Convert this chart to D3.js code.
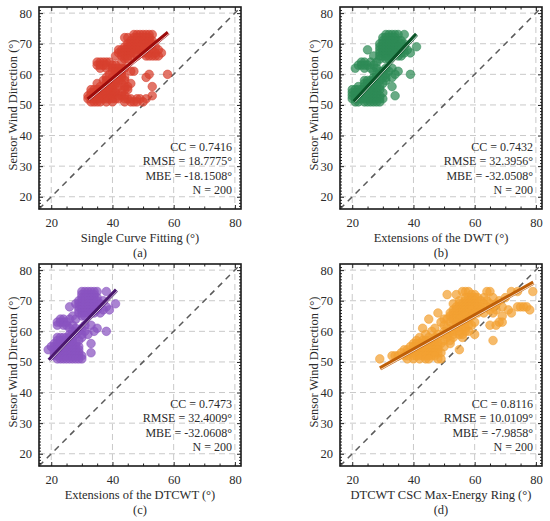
<!DOCTYPE html>
<html>
<head>
<meta charset="utf-8">
<script src="https://cdn.jsdelivr.net/npm/d3@7"></script>
<style>
    body { margin: 0; background: #fff; }
    text { font-family: "Liberation Serif", "Times New Roman", serif; fill: #2b2b2b; }
</style>
</head>
<body>
<div id="chart"></div>
<script>
// y values come in integer rows, each panel lists the x values found on each row
const yLevels = [73, 72, 71, 70, 69, 68, 67, 66, 65, 64, 63, 62, 61, 60, 59, 58, 57, 56, 55, 54, 53, 52, 51];

const xsA = [
    [47, 48, 49, 50, 51, 52, 53],
    [44, 45, 47, 48, 49, 50, 51, 52],
    [46, 47, 48, 49, 50, 51, 52, 53],
    [45, 46, 47, 48, 50, 51, 52, 53],
    [44, 45, 46, 47, 48, 49, 51, 52, 54],
    [42, 43, 44, 45, 46, 47, 48, 49, 50, 53, 55],
    [42, 43, 44, 45, 46, 47, 50, 51, 52, 54, 56],
    [41, 43, 44, 45, 46, 48, 51, 52, 53, 54, 55],
    [44, 45],
    [35, 36, 37, 38, 39, 43],
    [35, 36, 37, 38, 40, 41],
    [36, 38, 40, 41, 42, 43, 44],
    [40, 41, 42, 43, 46, 47],
    [39, 42, 43, 52, 58],
    [38, 40, 43, 44, 51],
    [37, 38, 40, 41, 42, 44],
    [35, 38, 39, 41, 43, 46],
    [36, 38, 39, 40, 42, 44, 45, 53],
    [33, 34, 35, 36, 38, 39, 40, 41, 44, 45],
    [33, 34, 35, 36, 37, 38, 39, 40, 41, 43],
    [32, 33, 34, 35, 36, 37, 38, 39, 40, 42, 43, 44, 53],
    [32, 33, 34, 35, 36, 37, 38, 39, 40, 41, 42, 44, 45, 46, 48, 49, 51],
    [33, 34, 35, 36, 38, 40, 44, 46, 47, 48, 50]
];

const xsB = [
    [31, 32, 33, 34, 35, 37],
    [30, 31, 32, 33, 34],
    [30, 31, 32, 33, 34, 35, 36],
    [29, 30, 31, 32, 33, 34, 36, 37],
    [29, 30, 31, 32, 33, 34, 35, 37, 41],
    [25, 29, 30, 31, 32, 33, 34, 35, 36, 38],
    [29, 30, 31, 32, 33, 34, 36, 37, 39],
    [27, 29, 30, 31, 32, 33, 35, 36],
    [29, 31, 32],
    [23, 24, 26, 28],
    [22, 23, 24, 25, 27],
    [21, 24, 26, 28, 31, 33],
    [27, 29, 30, 32, 35],
    [28, 30, 31, 34, 39],
    [27, 28, 30, 31, 33],
    [24, 25, 26, 27, 28, 29, 31],
    [24, 25, 26, 27, 28, 30],
    [22, 24, 25, 26, 27, 28, 29, 33],
    [20, 21, 22, 23, 24, 25, 26, 27, 28, 29],
    [20, 21, 22, 23, 24, 25, 26, 27, 28, 30],
    [20, 21, 22, 23, 24, 25, 26, 27, 28, 29, 34],
    [20, 21, 22, 23, 24, 25, 26, 27, 28, 29, 30],
    [21, 22, 24, 25, 26, 27, 28, 29]
];

const xsC = [
    [30, 31, 32, 33, 34, 35, 38],
    [30, 31, 32, 33, 34],
    [30, 31, 32, 33, 34, 35],
    [29, 30, 31, 32, 33, 34, 35, 37],
    [28, 29, 30, 31, 32, 33, 34, 36, 41],
    [26, 29, 30, 31, 32, 33, 34, 35, 38],
    [29, 30, 31, 32, 33, 34, 35, 37, 39],
    [29, 30, 31, 32, 33, 34, 36],
    [27, 30, 31],
    [23, 24, 26, 28],
    [22, 23, 24, 25],
    [22, 24, 25, 27, 31, 33],
    [26, 28, 30, 35],
    [27, 29, 31, 34, 38],
    [26, 28, 30, 32],
    [22, 23, 24, 25, 26, 27, 30],
    [22, 23, 24, 25, 26, 27, 29],
    [21, 22, 23, 24, 25, 26, 27, 28, 33],
    [20, 21, 22, 23, 24, 25, 26, 27, 28, 29],
    [19, 21, 22, 23, 24, 25, 26, 27, 28, 29],
    [21, 22, 23, 24, 25, 26, 27, 28, 29, 33],
    [21, 22, 23, 24, 25, 26, 27, 28, 29, 30],
    [22, 23, 24, 25, 26, 27, 28, 29, 30]
];

const xsD = [
    [56, 57, 58, 64, 65, 72, 74, 79],
    [51, 54, 59, 60],
    [57, 58, 59, 60, 61, 63, 66, 70],
    [55, 57, 58, 59, 60, 62, 64, 68],
    [53, 55, 56, 57, 58, 59, 60, 61, 63, 65, 67],
    [54, 55, 56, 57, 58, 59, 60, 61, 62, 64, 66, 69, 74, 75, 76, 77],
    [53, 54, 55, 56, 57, 58, 59, 61, 62, 65, 67, 71, 78],
    [48, 52, 53, 55, 56, 57, 58, 60, 61, 63, 66, 72],
    [52, 53, 54, 55, 56, 57, 59, 69],
    [45, 50, 51, 53, 54, 55, 58],
    [49, 52, 54, 56, 57, 60, 68, 69],
    [50, 53, 55, 58, 59, 65, 67],
    [43, 47, 51, 54, 56, 57],
    [46, 50, 52, 53, 55, 57, 58],
    [44, 48, 50, 51, 53, 55, 56, 60],
    [42, 45, 47, 48, 51, 53, 56],
    [41, 43, 44, 45, 47, 50, 52, 66],
    [40, 41, 42, 43, 44, 46, 47, 48, 49, 52],
    [39, 40, 41, 42, 43, 44, 45, 46, 47, 48, 50],
    [37, 38, 40, 41, 42, 43, 44, 45, 46, 47, 48, 55],
    [36, 38, 39, 40, 41, 42, 43, 44, 45, 46, 47, 48, 49],
    [33, 34, 35, 37, 38, 40, 41, 42, 43, 44, 45, 46, 47],
    [29, 38, 40, 42, 44, 45, 48, 49]
];

// fitted line end points
const fitXA = [32, 58.2], fitYA = [51.8, 73.6];
const fitXB = [20.6, 41], fitYB = [51.1, 73.1];
const fitXC = [19.3, 41.3], fitYC = [50.6, 73.5];
const fitXD = [29.1, 79.2], fitYD = [47.9, 75.9];

const statsA = ['CC = 0.7416', 'RMSE = 18.7775°', 'MBE = -18.1508°', 'N = 200'];
const statsB = ['CC = 0.7432', 'RMSE = 32.3956°', 'MBE = -32.0508°', 'N = 200'];
const statsC = ['CC = 0.7473', 'RMSE = 32.4009°', 'MBE = -32.0608°', 'N = 200'];
const statsD = ['CC = 0.8116', 'RMSE = 10.0109°', 'MBE = -7.9858°', 'N = 200'];

const axisDomain = [16, 82];
const xTicks = [20, 40, 60, 80];
const yTicks = [20, 30, 40, 50, 60, 70, 80];
const yTitle = 'Sensor Wind Direction (°)';

const panels = [
    { tag: '(a)', xs: xsA, fitX: fitXA, fitY: fitYA, stats: statsA, xTitle: 'Single Curve Fitting (°)',
      fill: '#d7402e', line: '#9e0b0b', left: 39, top: 7 },
    { tag: '(b)', xs: xsB, fitX: fitXB, fitY: fitYB, stats: statsB, xTitle: 'Extensions of the DWT (°)',
      fill: '#2e8a56', line: '#0a5528', left: 340, top: 7 },
    { tag: '(c)', xs: xsC, fitX: fitXC, fitY: fitYC, stats: statsC, xTitle: 'Extensions of the DTCWT (°)',
      fill: '#8953c0', line: '#4a176e', left: 39, top: 264 },
    { tag: '(d)', xs: xsD, fitX: fitXD, fitY: fitYD, stats: statsD, xTitle: 'DTCWT CSC Max-Energy Ring (°)',
      fill: '#f2a132', line: '#bf5f08', left: 340, top: 264 }
];

const size = 202;

const svg = d3.select('#chart').append('svg')
    .attr('width', 550)
    .attr('height', 521);

const x = d3.scaleLinear().domain(axisDomain).range([0, size]);
const y = d3.scaleLinear().domain(axisDomain).range([size, 0]);

const minorX = d3.range(20, 82, 5).filter(d => d % 20 !== 0);
const minorY = d3.range(17, 82, 1).filter(d => d % 10 !== 0);

panels.forEach(p => {
    let g = svg.append('g').attr('transform', `translate(${p.left},${p.top})`);

    // dashed grid
    g.append('g').selectAll('line').data(xTicks).join('line')
        .attr('x1', d => x(d)).attr('x2', d => x(d))
        .attr('y1', 0).attr('y2', size)
        .attr('stroke', '#c9c9c9').attr('stroke-width', 1).attr('stroke-dasharray', '6,4');
    g.append('g').selectAll('line').data(yTicks).join('line')
        .attr('y1', d => y(d)).attr('y2', d => y(d))
        .attr('x1', 0).attr('x2', size)
        .attr('stroke', '#c9c9c9').attr('stroke-width', 1).attr('stroke-dasharray', '6,4');

    // 1:1 line
    g.append('line')
        .attr('x1', x(axisDomain[0])).attr('y1', y(axisDomain[0]))
        .attr('x2', x(axisDomain[1])).attr('y2', y(axisDomain[1]))
        .attr('stroke', '#5a5a5a').attr('stroke-width', 1.5).attr('stroke-dasharray', '6,5');

    // points
    let pts = [];
    p.xs.forEach((row, i) => row.forEach(v => pts.push([v, yLevels[i]])));
    g.append('g').selectAll('circle').data(pts).join('circle')
        .attr('cx', d => x(d[0]))
        .attr('cy', d => y(d[1]))
        .attr('r', 4.3)
        .attr('fill', p.fill)
        .attr('fill-opacity', 0.72)
        .attr('stroke', p.fill)
        .attr('stroke-opacity', 0.9)
        .attr('stroke-width', 0.6);

    // regression line, with thin light streak
    g.append('line')
        .attr('x1', x(p.fitX[0])).attr('y1', y(p.fitY[0]))
        .attr('x2', x(p.fitX[1])).attr('y2', y(p.fitY[1]))
        .attr('stroke', p.line).attr('stroke-width', 4.2);
    g.append('line')
        .attr('transform', 'translate(0.9,0.9)')
        .attr('x1', x(p.fitX[0])).attr('y1', y(p.fitY[0]))
        .attr('x2', x(p.fitX[1])).attr('y2', y(p.fitY[1]))
        .attr('stroke', '#ffffff').attr('stroke-opacity', 0.85).attr('stroke-width', 0.9);

    // axes with inward ticks on all sides
    let fmt = d3.format('d');
    let axB = g.append('g').attr('transform', `translate(0,${size})`)
        .call(d3.axisBottom(x).tickValues(xTicks).tickSize(-4).tickPadding(9).tickFormat(fmt));
    let axL = g.append('g')
        .call(d3.axisLeft(y).tickValues(yTicks).tickSize(-4).tickPadding(7).tickFormat(fmt));
    g.append('g').attr('transform', `translate(0,${size})`)
        .call(d3.axisBottom(x).tickValues(minorX).tickSize(-2.5).tickFormat(''));
    g.append('g')
        .call(d3.axisLeft(y).tickValues(minorY).tickSize(-2).tickFormat(''));
    g.append('g')
        .call(d3.axisTop(x).tickValues(xTicks).tickSize(-4).tickFormat(''));
    g.append('g')
        .call(d3.axisTop(x).tickValues(minorX).tickSize(-2.5).tickFormat(''));
    g.append('g').attr('transform', `translate(${size},0)`)
        .call(d3.axisRight(y).tickValues(yTicks).tickSize(-4).tickFormat(''));
    g.append('g').attr('transform', `translate(${size},0)`)
        .call(d3.axisRight(y).tickValues(minorY).tickSize(-2).tickFormat(''));

    g.selectAll('.domain').remove();
    g.selectAll('.tick line').attr('stroke', '#222').attr('stroke-width', 1);
    axB.selectAll('text').attr('font-size', 12.5).attr('fill', '#2b2b2b').style('font-family', '"Liberation Serif", serif');
    axL.selectAll('text').attr('font-size', 12.5).attr('fill', '#2b2b2b').style('font-family', '"Liberation Serif", serif');

    // frame
    g.append('rect')
        .attr('width', size).attr('height', size)
        .attr('fill', 'none').attr('stroke', '#1a1a1a').attr('stroke-width', 1.6);

    // stats
    g.append('g').selectAll('text').data(p.stats).join('text')
        .attr('x', size - 9)
        .attr('y', (d, i) => 144 + i * 14.4)
        .attr('text-anchor', 'end')
        .attr('font-size', 12)
        .text(d => d);

    // titles
    g.append('text')
        .attr('x', size / 2).attr('y', size + 33)
        .attr('text-anchor', 'middle')
        .attr('font-size', 12.5)
        .text(p.xTitle);
    g.append('text')
        .attr('x', size / 2).attr('y', size + 48)
        .attr('text-anchor', 'middle')
        .attr('font-size', 12.5)
        .text(p.tag);
    g.append('text')
        .attr('transform', `translate(-22,${size / 2 - 3}) rotate(-90)`)
        .attr('text-anchor', 'middle')
        .attr('font-size', 12.5)
        .text(yTitle);
});
</script>
</body>
</html>
